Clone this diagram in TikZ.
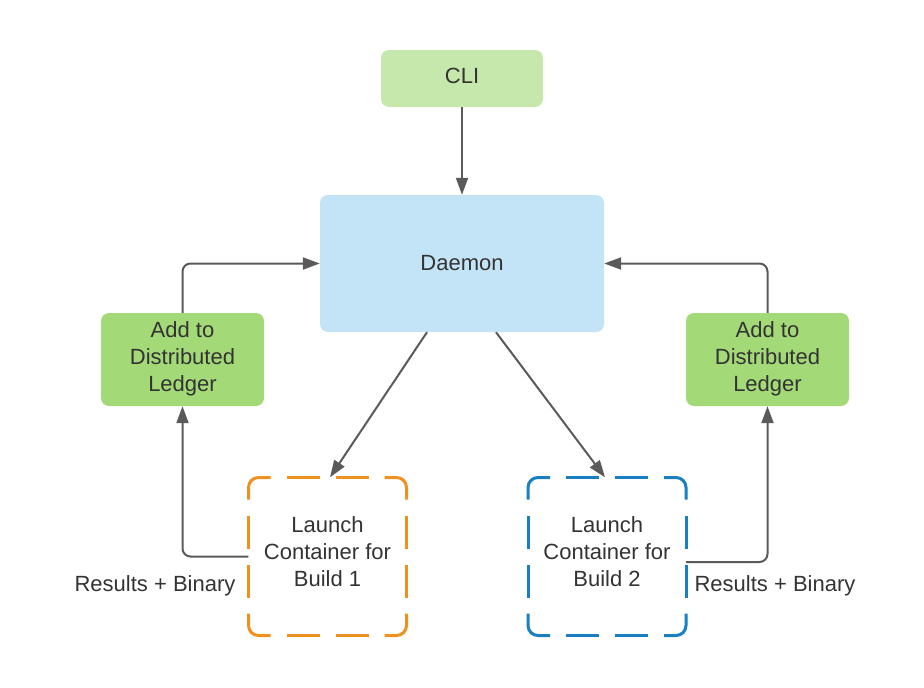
\documentclass[tikz,border=0pt]{standalone}
\usepackage{fontspec}
\setmainfont{Liberation Sans}
\usetikzlibrary{arrows.meta}
\definecolor{cligreen}{HTML}{C7E8AC}
\definecolor{daemonblue}{HTML}{C3E4F7}
\definecolor{ledgergreen}{HTML}{A3D977}
\definecolor{buildorange}{HTML}{F0901F}
\definecolor{buildblue}{HTML}{1A7EC2}
\definecolor{arrowgray}{HTML}{5A5A5A}
\definecolor{txt}{HTML}{333333}
\tikzset{
  lbl/.style={text=txt, font=\fontsize{22}{27}\selectfont, align=center, inner sep=0pt},
  fillbox/.style={rounded corners=8pt, draw=none, inner sep=0pt},
  buildbox/.style={minimum width=158pt, minimum height=158pt, draw=none, inner sep=0pt},
  dashpart/.style={line width=3pt, rounded corners=10pt, line cap=butt},
  arr/.style={draw=arrowgray, line width=2pt, rounded corners=8pt,
    -{Triangle[length=17pt,width=12pt]}}
}
\newcommand{\dashedframe}[2]{%
  \begin{scope}[shift={(#1.center)}, draw=#2]
    \draw[dashpart] (-79,-57) -- (-79,-79) -- (-57,-79);
    \draw[dashpart] (57,-79) -- (79,-79) -- (79,-57);
    \draw[dashpart] (79,57) -- (79,79) -- (57,79);
    \draw[dashpart] (-57,79) -- (-79,79) -- (-79,57);
    \draw[dashpart] (-41,-79) -- (-8,-79) (8,-79) -- (41,-79);
    \draw[dashpart] (-41,79) -- (-8,79) (8,79) -- (41,79);
    \draw[dashpart] (-79,-41) -- (-79,-8) (-79,8) -- (-79,41);
    \draw[dashpart] (79,-41) -- (79,-8) (79,8) -- (79,41);
  \end{scope}}
\begin{document}
\begin{tikzpicture}[x=1pt,y=-1pt]
\useasboundingbox (0,0) rectangle (924,688);
\node[fillbox, fill=cligreen, minimum width=162pt, minimum height=57pt] (cli) at (462,78.5) {};
\node[fillbox, fill=daemonblue, minimum width=284pt, minimum height=137pt] (daemon) at (462,263.5) {};
\node[fillbox, fill=ledgergreen, minimum width=163pt, minimum height=93pt] (l1) at (182.5,359.5) {};
\node[fillbox, fill=ledgergreen, minimum width=163pt, minimum height=93pt] (l2) at (767.5,359.5) {};
\node[buildbox] (b1) at (327.5,556.5) {};
\node[buildbox] (b2) at (607,556.5) {};
\dashedframe{b1}{buildorange}
\dashedframe{b2}{buildblue}
\node[lbl] (clit) at (462,75.5) {CLI};
\node[lbl] (daemont) at (462,263.5) {Daemon};
\node[lbl] (l1t) at (182.5,358.5) {Add to\\Distributed\\Ledger};
\node[lbl] (l2t) at (767.5,358.5) {Add to\\Distributed\\Ledger};
\node[lbl] (b1t) at (327.5,552) {Launch\\Container for\\Build 1};
\node[lbl] (b2t) at (607,552) {Launch\\Container for\\Build 2};
\node[lbl] (r1) at (155,586) {Results + Binary};
\node[lbl] (r2) at (775,586) {Results + Binary};
\draw[arr] (cli.south) -- (daemon.north);
\draw[arr] ([xshift=-35pt]daemon.south) -- ([xshift=2.5pt]b1.north);
\draw[arr] ([xshift=34pt]daemon.south) -- ([xshift=-2pt]b2.north);
\draw[arr] (l1.north) |- (daemon.west);
\draw[arr] (l2.north) |- (daemon.east);
\draw[arr] (b1.west) -| (l1.south);
\draw[arr] ([yshift=-5.5pt]b2.east) -| (l2.south);
\end{tikzpicture}
\end{document}
